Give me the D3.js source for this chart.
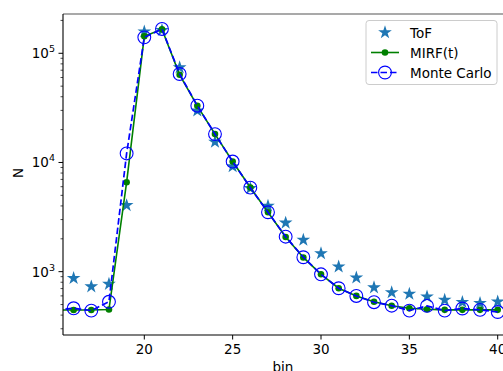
<!DOCTYPE html>
<html lang="en">
<head>
  <meta charset="UTF-8">
  <script src="https://d3js.org/d3.v7.min.js"></script>
  <style>
    body { margin: 0; background: white; }
    text { font-family: "DejaVu Sans", sans-serif; }
  </style>
</head>
<body>
<div id="my_dataviz"></div>
<script>
// data
var bins = [15, 16, 17, 18, 19, 20, 21, 22, 23, 24, 25, 26, 27, 28, 29, 30, 31, 32, 33, 34, 35, 36, 37, 38, 39, 40];
var tof = [900, 870, 730, 770, 4050, 158000, 163000, 74000, 29800, 15400, 9200, 5800, 4000, 2800, 1950, 1470, 1110, 880, 715, 645, 625, 590, 550, 525, 515, 530];
var mirf = [446, 446, 446, 450, 6600, 143000, 166000, 63500, 33000, 18200, 10200, 5900, 3500, 2080, 1350, 946, 705, 600, 531, 488, 462, 453, 447, 447, 447, 447];
var monteCarlo = [446, 462, 440, 530, 12100, 140000, 167000, 64600, 33100, 18200, 10200, 5880, 3500, 2090, 1355, 946, 705, 599, 525, 488, 440, 486, 440, 460, 447, 427];
var xTicks = [20, 25, 30, 35, 40];
var yTicks = [1e3, 1e4, 1e5];
var legendLabels = ["ToF", "MIRF(t)", "Monte Carlo"];

var W = 503, H = 371;
var marginLeft = 63, marginTop = 14, plotBottom = 335, plotRight = 540;

var svg = d3.select("#my_dataviz").append("svg")
  .attr("width", W).attr("height", H);

var x = d3.scaleLinear().domain([20, 40]).range([144.3, 497.7]);
var y = d3.scaleLog().domain([263, 229000]).range([plotBottom, marginTop]);

svg.append("defs").append("clipPath").attr("id", "clip")
  .append("rect").attr("x", marginLeft).attr("y", marginTop)
  .attr("width", plotRight - marginLeft).attr("height", plotBottom - marginTop);

// star path like matplotlib '*'
function starPath(R) {
  var r = R * 0.381966, p = [];
  for (var i = 0; i < 10; i++) {
    var a = -Math.PI / 2 + i * Math.PI / 5;
    var rr = i % 2 ? r : R;
    p.push([rr * Math.cos(a), rr * Math.sin(a)]);
  }
  return "M" + p.map(function(d) { return d[0].toFixed(2) + "," + d[1].toFixed(2); }).join("L") + "Z";
}

var plot = svg.append("g").attr("clip-path", "url(#clip)");
var pts = function(vals) { return bins.map(function(b, i) { return [b, vals[i]]; }); };
var line = d3.line().x(function(d) { return x(d[0]); }).y(function(d) { return y(d[1]); });

// ToF stars
plot.selectAll(".star").data(pts(tof)).enter().append("path")
  .attr("d", starPath(7.2))
  .attr("transform", function(d) { return "translate(" + x(d[0]) + "," + y(d[1]) + ")"; })
  .attr("fill", "#1f77b4");

// MIRF(t)
plot.append("path").datum(pts(mirf)).attr("d", line)
  .attr("fill", "none").attr("stroke", "green").attr("stroke-width", 1.6);
plot.selectAll(".dot").data(pts(mirf)).enter().append("circle")
  .attr("cx", function(d) { return x(d[0]); })
  .attr("cy", function(d) { return y(d[1]); })
  .attr("r", 3.3).attr("fill", "green");

// Monte Carlo
plot.append("path").datum(pts(monteCarlo)).attr("d", line)
  .attr("fill", "none").attr("stroke", "blue").attr("stroke-width", 1.7)
  .attr("stroke-dasharray", "6.5,3");
plot.selectAll(".mc").data(pts(monteCarlo)).enter().append("circle")
  .attr("cx", function(d) { return x(d[0]); })
  .attr("cy", function(d) { return y(d[1]); })
  .attr("r", 6.4).attr("fill", "none").attr("stroke", "blue").attr("stroke-width", 1.1);

// spines
svg.append("line").attr("x1", marginLeft).attr("x2", W).attr("y1", marginTop).attr("y2", marginTop)
  .attr("stroke", "#555").attr("stroke-width", 1.2);
svg.append("line").attr("x1", marginLeft).attr("x2", W).attr("y1", plotBottom).attr("y2", plotBottom)
  .attr("stroke", "black").attr("stroke-width", 1.1);
svg.append("line").attr("x1", marginLeft).attr("x2", marginLeft).attr("y1", marginTop).attr("y2", plotBottom)
  .attr("stroke", "black").attr("stroke-width", 1.1);

// x ticks
var xt = svg.append("g");
xTicks.forEach(function(t) {
  xt.append("line").attr("x1", x(t)).attr("x2", x(t)).attr("y1", plotBottom).attr("y2", plotBottom + 4.5)
    .attr("stroke", "black").attr("stroke-width", 1);
  xt.append("text").attr("x", x(t)).attr("y", plotBottom + 19).attr("text-anchor", "middle")
    .attr("font-size", 13.5).text(t);
});
svg.append("text").attr("x", 283).attr("y", 372).attr("text-anchor", "middle")
  .attr("font-size", 13.5).text("bin");

// y ticks (log, with minors)
var yt = svg.append("g");
for (var e = 2; e <= 5; e++) {
  for (var m = 1; m <= 9; m++) {
    var v = m * Math.pow(10, e);
    if (v < y.domain()[0] || v > y.domain()[1]) continue;
    yt.append("line").attr("x1", marginLeft).attr("x2", marginLeft - (m === 1 ? 4.5 : 2.5))
      .attr("y1", y(v)).attr("y2", y(v)).attr("stroke", "black").attr("stroke-width", m === 1 ? 1 : 0.7);
  }
}
yTicks.forEach(function(t) {
  var tx = yt.append("text").attr("x", marginLeft - 8).attr("y", y(t) + 5).attr("text-anchor", "end")
    .attr("font-size", 13.5);
  tx.append("tspan").text("10");
  tx.append("tspan").attr("font-size", 9.5).attr("dy", -6).text(Math.round(Math.log10(t)));
});
svg.append("text").attr("transform", "translate(23,173) rotate(-90)")
  .attr("text-anchor", "middle").attr("font-size", 13.5).text("N");

// legend
var lg = svg.append("g");
lg.append("rect").attr("x", 366).attr("y", 20.5).attr("width", 131).attr("height", 64).attr("rx", 3)
  .attr("fill", "white").attr("fill-opacity", 0.8).attr("stroke", "#ccc").attr("stroke-width", 1);
var ly = [32.5, 52.5, 72.5];
lg.append("path").attr("d", starPath(7.2)).attr("transform", "translate(385," + ly[0] + ")")
  .attr("fill", "#1f77b4");
lg.append("line").attr("x1", 371).attr("x2", 399).attr("y1", ly[1]).attr("y2", ly[1])
  .attr("stroke", "green").attr("stroke-width", 1.6);
lg.append("circle").attr("cx", 385).attr("cy", ly[1]).attr("r", 3.3).attr("fill", "green");
lg.append("line").attr("x1", 371).attr("x2", 399).attr("y1", ly[2]).attr("y2", ly[2])
  .attr("stroke", "blue").attr("stroke-width", 1.7).attr("stroke-dasharray", "6.5,3");
lg.append("circle").attr("cx", 385).attr("cy", ly[2]).attr("r", 6.4)
  .attr("fill", "none").attr("stroke", "blue").attr("stroke-width", 1.1);
legendLabels.forEach(function(l, i) {
  lg.append("text").attr("x", 410).attr("y", ly[i] + 5).attr("font-size", 13.5).text(l);
});
</script>
</body>
</html>
